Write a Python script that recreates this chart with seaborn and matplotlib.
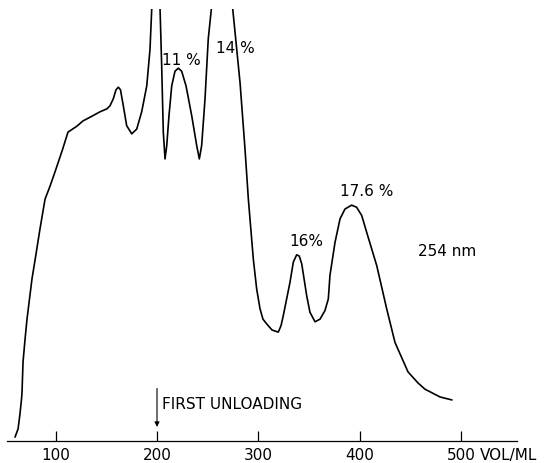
import numpy as np
import pandas as pd
import matplotlib
matplotlib.use("Agg")
import matplotlib.pyplot as plt
import seaborn as sns

# Elution volume (ml) and UV absorbance at 254 nm (arbitrary units, top of frame = 100)
volume = [60.1, 63.1, 65.0, 66.5, 67.0, 68.0, 70.0, 71.9, 76.8, 80.8, 84.7, 89.7,
          94.6, 99.5, 106.4, 112.3, 121.2, 127.1, 136.0, 143.8, 150.7, 153.7, 156.9,
          159.6, 161.9, 164.0, 166.8, 170.1, 175.1, 180.0, 184.9, 189.9, 193.1, 194.8,
          196.5, 199.0, 201.5, 203.0, 204.6, 206.2, 207.9, 209.6, 211.8, 214.5, 217.7,
          221.0, 224.3, 228.6, 234.2, 239.1, 241.7, 244.0, 247.3, 250.5, 253.9,
          258.0, 264.0, 270.0, 274.6, 281.8, 286.7, 290.0, 294.9, 298.2, 301.5, 304.4,
          308.1, 313.3, 319.5, 322.2, 324.4, 331.0, 334.3, 337.6, 340.2, 342.6, 347.5,
          350.7, 355.7, 360.6, 365.5, 368.8, 370.4, 375.4, 380.3, 385.2, 391.8, 396.7,
          401.7, 406.6, 416.5, 426.3, 434.5, 447.3, 457.3, 464.0, 478.8, 490.6]
absorbance = [0.9, 2.8, 6.3, 9.7, 11.3, 18.3, 23.6, 28.2, 37.5, 43.3, 49.1, 56.0,
              59.0, 62.3, 67.1, 71.5, 72.9, 74.1, 75.2, 76.2, 76.9, 77.6, 79.2,
              81.3, 81.9, 81.3, 77.6, 73.0, 71.1, 72.2, 76.2, 82.2, 90.7, 100.0,
              112.0, 118.0, 112.0, 100.0, 86.9, 71.5, 65.3, 68.4, 75.3, 82.2, 85.6,
              86.3, 85.6, 82.2, 75.3, 68.4, 65.3, 68.4, 79.2, 93.1, 100.8,
              116.0, 124.0, 116.0, 100.0, 83.0, 67.6, 56.0, 42.1, 35.2, 30.6, 28.2,
              27.1, 25.7, 25.2, 26.7, 29.0, 36.7, 41.4, 43.1, 42.8, 41.0, 33.6,
              29.8, 27.6, 28.2, 30.2, 32.9, 38.3, 46.0, 51.4, 53.7, 54.6, 54.1,
              52.2, 48.3, 40.6, 30.6, 22.8, 16.0, 13.4, 12.0, 10.2, 9.5]

tick_values = [100, 200, 300, 400, 500]
tick_labels = ["100", "200", "300", "400", "500"]

peak_labels = ["11 %", "14 %", "16%", "17.6 %"]
peak_label_x = [223.7, 276.8, 346.8, 406.9]
peak_label_y = [88.2, 91.2, 46.5, 58.1]

df = pd.DataFrame({"volume": volume, "absorbance": absorbance})

sns.set_style("white")
plt.rcParams["font.family"] = ["DejaVu Sans"]
plt.rcParams["text.color"] = "black"

fig = plt.figure(figsize=(5.5, 4.64), dpi=100)
ax = fig.add_axes([7 / 550, 22 / 464, 510 / 550, 432 / 464])

sns.lineplot(data=df, x="volume", y="absorbance", ax=ax, color="black",
             linewidth=1.2, sort=False, estimator=None)

ax.set_xlim(52.2, 554.7)
ax.set_ylim(0, 100)

for s in ["left", "right", "top"]:
    ax.spines[s].set_visible(False)
ax.spines["bottom"].set_linewidth(0.9)
ax.spines["bottom"].set_color("black")

ax.set_xticks(tick_values)
ax.set_xticklabels(tick_labels, fontsize=11, color="black")
ax.tick_params(axis="x", direction="in", length=7.5, width=0.9, pad=4, colors="black",
               bottom=True)
ax.set_yticks([])
ax.set_xlabel("")
ax.set_ylabel("")

trans = matplotlib.transforms.blended_transform_factory(ax.transData, ax.transAxes)
ax.text(518.5, -0.013, "VOL/ML", transform=trans, ha="left", va="top", fontsize=11,
        color="black")

for lab, lx, ly in zip(peak_labels, peak_label_x, peak_label_y):
    ax.text(lx, ly, lab, ha="center", va="center", fontsize=11, color="black")

ax.text(485.7, 44.2, "254 nm", ha="center", va="center", fontsize=11, color="black")

ax.annotate("", xy=(200, 2.6), xytext=(200, 12.8),
            arrowprops=dict(arrowstyle="-|>", color="black", lw=0.8, mutation_scale=7))
ax.text(204.5, 8.6, "FIRST UNLOADING", ha="left", va="center", fontsize=11,
        color="black")

fig.savefig("out.png", dpi=100)
